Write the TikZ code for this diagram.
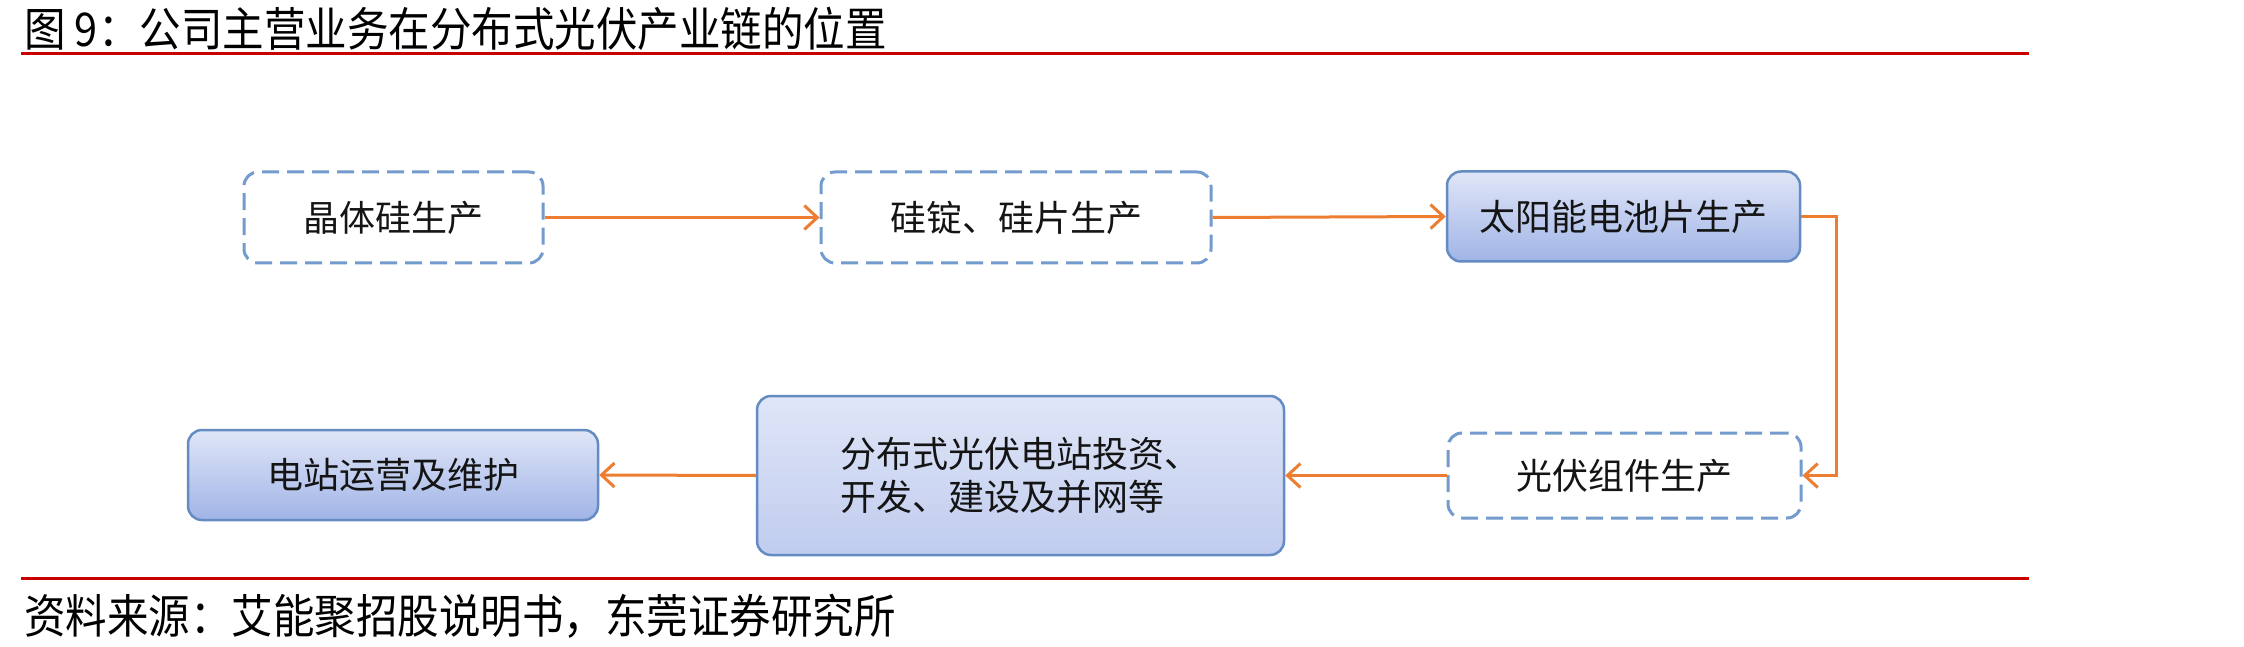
\documentclass[tikz,border=0pt]{standalone}
\usepackage{fontspec}
\usepackage{graphicx}
\newfontfamily\cjk{Noto Sans CJK SC}
\usetikzlibrary{arrows.meta}
\definecolor{borderblue}{RGB}{100,140,195}
\definecolor{dashblue}{RGB}{115,155,205}
\definecolor{gradtop}{RGB}{224,230,248}
\definecolor{gradbot}{RGB}{160,180,230}
\definecolor{gradbotlight}{RGB}{192,204,238}
\definecolor{arroworange}{RGB}{237,125,49}
\definecolor{rulered}{RGB}{200,0,0}
\definecolor{txt}{RGB}{20,20,20}
\tikzset{
  boxbase/.style={rectangle, rounded corners=14pt, inner sep=0pt, text=txt,
    font=\cjk\fontsize{36}{43}\selectfont},
  dbox/.style={boxbase, draw=dashblue, line width=3pt, dash pattern=on 17pt off 8pt, fill=white},
  fbox/.style={boxbase, draw=borderblue, line width=2.5pt, top color=gradtop, bottom color=gradbot},
  flow/.style={draw=arroworange, line width=3pt,
    -{Straight Barb[length=13pt,width=24pt,line width=3pt]}},
  rule/.style={draw=rulered, line width=3pt},
  caption/.style={anchor=west, inner sep=0pt, text=black, font=\cjk\fontsize{41.5}{48}\selectfont}
}
\begin{document}
\begin{tikzpicture}[x=1pt,y=-1pt]
\useasboundingbox[fill=white] (0,0) rectangle (2244,647);
% title and rules
\node[caption] (title) at (24,29) {\scalebox{1}[1.12]{图 9：公司主营业务在分布式光伏产业链的位置}};
\draw[rule] (21,54) -- (2029,54);
\draw[rule] (21,578) -- (2029,578);
\node[caption] (source) at (24,616) {\scalebox{1}[1.12]{资料来源：艾能聚招股说明书，东莞证券研究所}};
% boxes
\node[dbox, minimum width=299pt, minimum height=91pt] (b1) at (393.5,217.5) {晶体硅生产};
\node[dbox, minimum width=390pt, minimum height=91pt] (b2) at (1016,217.5) {硅锭、硅片生产};
\node[fbox, minimum width=353pt, minimum height=90pt] (b3) at (1623.5,216.5) {太阳能电池片生产};
\node[dbox, minimum width=353pt, minimum height=85pt] (b4) at (1624.5,475.5) {光伏组件生产};
\node[fbox, bottom color=gradbotlight, minimum width=527pt, minimum height=159pt, align=left] (b5) at (1020.5,475.5) {分布式光伏电站投资、\\开发、建设及并网等};
\node[fbox, minimum width=410pt, minimum height=90pt] (b6) at (393,475) {电站运营及维护};
% connectors
\draw[flow] (b1.east) -- (b2.west);
\draw[flow] (b2.east) -- (b3.west);
\draw[flow] (b3.east) -- ++(35,0) |- (b4.east);
\draw[flow] (b4.west) -- (b5.east);
\draw[flow] (b5.west) -- (b6.east);
\end{tikzpicture}
\end{document}
